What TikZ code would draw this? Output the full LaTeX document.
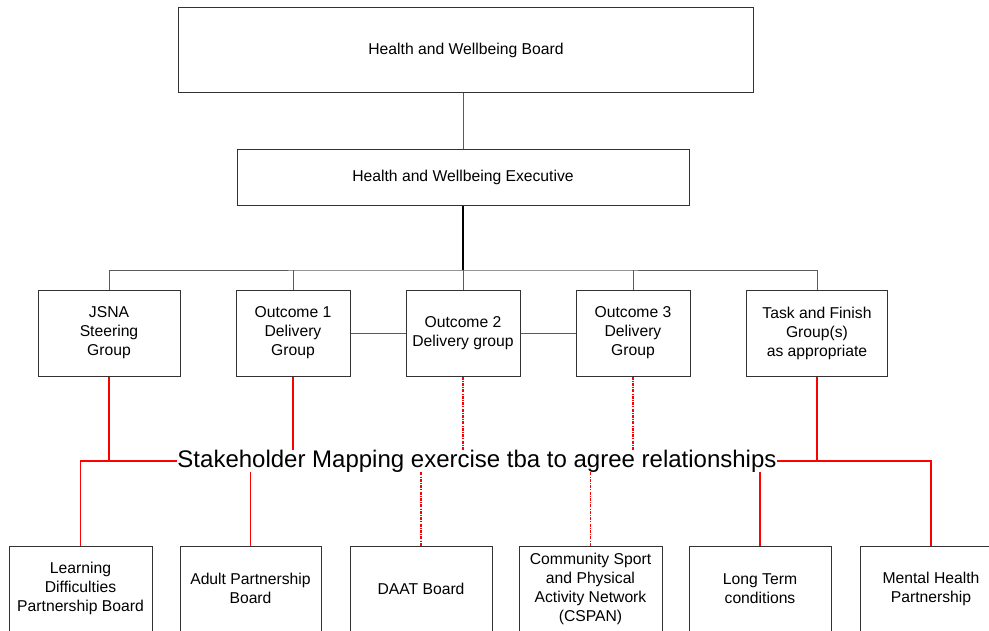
\documentclass[tikz,border=0pt]{standalone}
\usepackage{fontspec}
\setmainfont{Liberation Sans}
\usetikzlibrary{positioning,calc}
\definecolor{linegray}{RGB}{90,90,90}
\definecolor{boxgray}{RGB}{50,50,50}

\begin{document}
\begin{tikzpicture}[x=1pt, y=-1pt,
    box/.style={rectangle, draw=boxgray, line width=1pt, fill=white, align=center,
                font=\fontsize{15.7}{19}\selectfont, inner sep=2pt},
    link/.style={draw=linegray, line width=1pt},
    redlink/.style={draw=red, line width=1.3pt},
    reddash/.style={draw=red, line width=1.3pt, dash pattern=on 3pt off 1.2pt on 1pt off 1.2pt},
]
\useasboundingbox (0,0) rectangle (989,630);

% Top of the structure
\node[box, minimum width=575, minimum height=85] (board) at (466,50) {Health and Wellbeing Board};
\node[box, minimum width=452, minimum height=56] (exec) at (463,177) {Health and Wellbeing Executive};

% Groups
\node[box, minimum width=142, minimum height=86] (jsna) at (109,333) {JSNA\\Steering\\Group};
\node[box, minimum width=114, minimum height=86] (out1) at (293,333) {Outcome 1\\Delivery\\Group};
\node[box, minimum width=114, minimum height=86] (out2) at (463,333) {Outcome 2\\Delivery group};
\node[box, minimum width=114, minimum height=86] (out3) at (633,333) {Outcome 3\\Delivery\\Group};
\node[box, minimum width=141, minimum height=86] (task) at (817,333) {Task and Finish\\Group(s)\\as appropriate};

% Stakeholder line
\node[inner sep=0pt, font=\fontsize{24}{28}\selectfont] (map) at (477,461)
    {Stakeholder Mapping exercise tba to agree relationships};

% Partnership boards
\node[box, minimum width=143, minimum height=85] (ld) at (80.5,588.5) {Learning\\Difficulties\\Partnership Board};
\node[box, minimum width=141, minimum height=85] (adult) at (250.5,588.5) {Adult Partnership\\Board};
\node[box, minimum width=142, minimum height=85] (daat) at (421,588.5) {DAAT Board};
\node[box, minimum width=143, minimum height=85] (cspan) at (590.5,588.5) {Community Sport\\and Physical\\Activity Network\\(CSPAN)};
\node[box, minimum width=142, minimum height=85] (ltc) at (760,588.5) {Long Term\\conditions};
\node[box, minimum width=142, minimum height=85] (mhp) at (931,588.5) {Mental Health\\Partnership};

% Black connections
\coordinate (bus) at (463,270);
\draw[link] (exec.north) -- (exec.north |- board.south);
\draw[draw=black, line width=2pt] (exec) -- (bus);
\draw[link] (jsna) |- (bus) -| (task);
\foreach \g in {out1, out2, out3} {
    \draw[link] (\g) -- (\g |- bus);
}
\draw[link] (out1) -- (out2);
\draw[link] (out2) -- (out3);

% Red connections
\draw[redlink] (jsna) -- (jsna |- map.west);
\draw[redlink] (map.west) -| (ld);
\draw[redlink] (task) -- (task |- map.east);
\draw[redlink] (map.east) -| (mhp);
\draw[redlink] (out1) -- (out1 |- map.north);
\draw[reddash] (out2) -- (out2 |- map.north);
\draw[reddash] (out3) -- (out3 |- map.north);
\draw[redlink] (map.south -| adult) -- (adult);
\draw[reddash] (map.south -| daat) -- (daat);
\draw[reddash] (map.south -| cspan) -- (cspan);
\draw[redlink] (map.south -| ltc) -- (ltc);

\end{tikzpicture}
\end{document}
